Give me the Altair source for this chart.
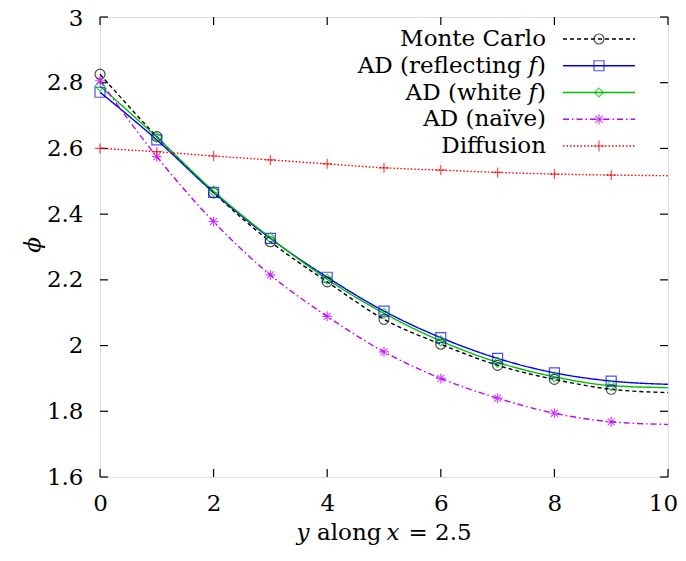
import altair as alt
import pandas as pd

# ---- data ----
X = [0, 1, 2, 3, 4, 5, 6, 7, 8, 9, 10]
SERIES = ["Monte Carlo", "AD (reflecting f)", "AD (white f)", "AD (naïve)", "Diffusion"]
MC = [2.826, 2.636, 2.465, 2.316, 2.194, 2.080, 2.004, 1.940, 1.897, 1.867, 1.857]
REFL = [2.771, 2.626, 2.466, 2.326, 2.208, 2.105, 2.024, 1.961, 1.917, 1.892, 1.882]
WHITE = [2.790, 2.634, 2.470, 2.328, 2.202, 2.098, 2.014, 1.949, 1.905, 1.878, 1.872]
NAIVE = [2.806, 2.575, 2.377, 2.215, 2.089, 1.981, 1.900, 1.840, 1.794, 1.768, 1.760]
DIFF = [2.600, 2.590, 2.577, 2.565, 2.553, 2.541, 2.534, 2.527, 2.522, 2.519, 2.517]
MARKER_X_MAX = 9
X_TICKS = [0, 2, 4, 6, 8, 10]
Y_TICKS = [1.6, 1.8, 2.0, 2.2, 2.4, 2.6, 2.8, 3.0]
# legend text pieces: (regular part, italic part, tail)
LEGEND_TEXT = [("Monte Carlo", "", ""), ("AD (reflecting", "f", ")"),
               ("AD (white", "f", ")"), ("AD (naïve)", "", ""), ("Diffusion", "", "")]

# ---- styles ----
FONT = "DejaVu Serif"
FS = 23
W, H = 568, 460
COLORS = ["#000000", "#0000ff", "#00c000", "#c000ff", "#ff0000"]
DASHES = [[4, 3], [1, 0], [1, 0], [6, 3, 1.5, 3], [1.5, 2]]
ASTER = "M-1,0L1,0M0,-1L0,1M-0.7,-0.7L0.7,0.7M-0.7,0.7L0.7,-0.7"
PLUS = "M-1,0L1,0M0,-1L0,1"
SHAPES = ["circle", "square", "diamond", ASTER, PLUS]
SIZES = [100, 100, 80, 110, 120]
LW = 1.4

vals = [MC, REFL, WHITE, NAIVE, DIFF]
rows = []
for s, v in zip(SERIES, vals):
    for x, y in zip(X, v):
        rows.append({"series": s, "x": x, "y": y})
df = pd.DataFrame(rows)
pts = df[df["x"] <= MARKER_X_MAX]

xs = alt.Scale(domain=[0, 10], nice=False, zero=False)
ys = alt.Scale(domain=[1.6, 3.0], nice=False, zero=False)

lines = alt.Chart(df).mark_line(interpolate="monotone", strokeWidth=LW).encode(
    x=alt.X("x:Q", scale=xs,
            axis=alt.Axis(values=X_TICKS, tickSize=0, domain=False, grid=False, format="~g",
                          labelFont=FONT, labelFontSize=FS, labelColor="black",
                          labelPadding=15, title=None, labelFlush=False,
                          labelOffset={"condition": {"test": "datum.value == 10", "value": -5},
                                       "value": 0})),
    y=alt.Y("y:Q", scale=ys,
            axis=alt.Axis(values=Y_TICKS, tickSize=0, domain=False, grid=False, format="~g",
                          labelFont=FONT, labelFontSize=FS, labelColor="black",
                          labelPadding=17, title=None, labelFlush=False,
                          labelOffset={"condition": {"test": "datum.value == 3", "value": 1},
                                       "value": 0})),
    color=alt.Color("series:N", scale=alt.Scale(domain=SERIES, range=COLORS), legend=None),
    strokeDash=alt.StrokeDash("series:N", scale=alt.Scale(domain=SERIES, range=DASHES), legend=None),
    detail="series:N",
)

points = alt.Chart(pts).mark_point(filled=False, strokeWidth=1.2).encode(
    x=alt.X("x:Q", scale=xs),
    y=alt.Y("y:Q", scale=ys),
    color=alt.Color("series:N", scale=alt.Scale(domain=SERIES, range=COLORS), legend=None),
    shape=alt.Shape("series:N", scale=alt.Scale(domain=SERIES, range=SHAPES), legend=None),
    size=alt.Size("series:N", scale=alt.Scale(domain=SERIES, range=SIZES), legend=None),
)

# inward ticks on all four sides
xt = pd.DataFrame({"v": X_TICKS})
yt = pd.DataFrame({"v": Y_TICKS})
TL = 8
tick_b = alt.Chart(xt).mark_rule(color="black", strokeWidth=1.2).encode(
    x=alt.X("v:Q", scale=xs), y=alt.value(H), y2=alt.value(H - TL))
tick_t = alt.Chart(xt).mark_rule(color="black", strokeWidth=1.2).encode(
    x=alt.X("v:Q", scale=xs), y=alt.value(0), y2=alt.value(TL))
tick_l = alt.Chart(yt).mark_rule(color="black", strokeWidth=1.2).encode(
    y=alt.Y("v:Q", scale=ys), x=alt.value(0), x2=alt.value(TL))
tick_r = alt.Chart(yt).mark_rule(color="black", strokeWidth=1.2).encode(
    y=alt.Y("v:Q", scale=ys), x=alt.value(W), x2=alt.value(W - TL))

one = pd.DataFrame({"a": [0]})
layers = [tick_b, tick_t, tick_l, tick_r, lines, points]

# legend (text right of which the line sample sits)
TXT_R = 446
ROW0, DROW = 22, 26.75
L_X1, L_X2, M_X = 463, 535, 499
PAREN_W, F_W, SP_W = 9, 8.1, 7.3
for i, (s, (reg, ital, tail)) in enumerate(zip(SERIES, LEGEND_TEXT)):
    ry = ROW0 + i * DROW
    if ital:
        layers.append(alt.Chart(one).mark_text(font=FONT, fontSize=FS, align="right",
                                               baseline="alphabetic", color="black", text=tail)
                      .encode(x=alt.value(TXT_R), y=alt.value(ry + 7)))
        layers.append(alt.Chart(one).mark_text(font=FONT, fontSize=FS, fontStyle="italic",
                                               align="right", baseline="alphabetic",
                                               color="black", text=ital)
                      .encode(x=alt.value(TXT_R - PAREN_W), y=alt.value(ry + 7)))
        rx = TXT_R - PAREN_W - F_W - SP_W
    else:
        rx = TXT_R
    layers.append(alt.Chart(one).mark_text(font=FONT, fontSize=FS, align="right",
                                           baseline="alphabetic", color="black", text=reg)
                  .encode(x=alt.value(rx), y=alt.value(ry + 7)))
    layers.append(alt.Chart(one).mark_rule(color=COLORS[i], strokeDash=DASHES[i], strokeWidth=LW)
                  .encode(x=alt.value(L_X1), x2=alt.value(L_X2), y=alt.value(ry)))
    layers.append(alt.Chart(one).mark_point(shape=SHAPES[i], size=SIZES[i], color=COLORS[i],
                                            filled=False, strokeWidth=1.2)
                  .encode(x=alt.value(M_X), y=alt.value(ry)))

# x axis title with italic variables
XT_Y = 523
for txt, xpos, style in [("y", 196.5, "italic"), ("along", 217, "normal"),
                         ("x", 286.5, "italic"), ("= 2.5", 308.5, "normal")]:
    layers.append(alt.Chart(one).mark_text(font=FONT, fontSize=FS, fontStyle=style, align="left",
                                           baseline="alphabetic", color="black", text=txt)
                  .encode(x=alt.value(xpos), y=alt.value(XT_Y)))

# y axis title
layers.append(alt.Chart(one).mark_text(font=FONT, fontSize=FS, fontStyle="italic", align="center",
                                       baseline="middle", color="black", text="ϕ", angle=270)
              .encode(x=alt.value(-67), y=alt.value(228)))

chart = alt.layer(*layers).properties(
    width=W, height=H,
    autosize=alt.AutoSizeParams(type="none"),
    padding={"left": 92, "top": 9, "right": 10, "bottom": 70},
).configure_view(stroke="black", strokeWidth=1.6).configure(background="white")

chart.save("out.html", embed_options={"renderer": "svg", "actions": False})
